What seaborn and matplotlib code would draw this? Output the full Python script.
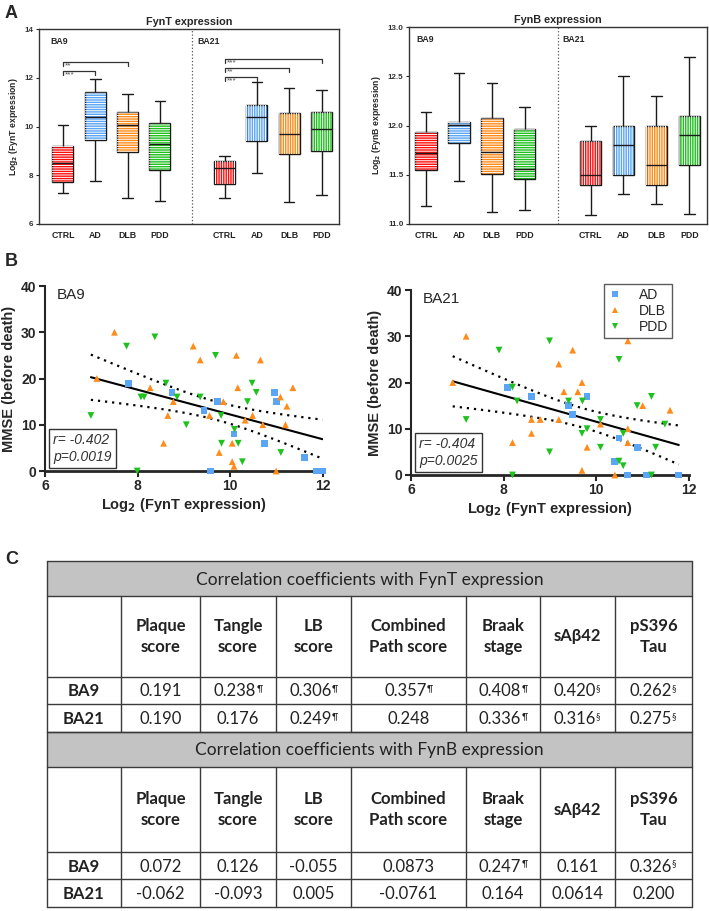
import numpy as np
import pandas as pd
import matplotlib
matplotlib.use('Agg')
import matplotlib.pyplot as plt
from matplotlib.patches import PathPatch, Rectangle
from matplotlib.lines import Line2D
import seaborn as sns

sns.set_style('white')
plt.rcParams['font.family'] = ['Liberation Sans', 'DejaVu Sans']
plt.rcParams['hatch.linewidth'] = 0.7

groups = ['CTRL', 'AD', 'DLB', 'PDD']
box_colors = ['#ff0d0d', '#5aa5f5', '#ff8c1a', '#1ec11e']

# five-number summaries (min, Q1, median, Q3, max)
fynt_ba9 = [[7.26, 7.74, 8.51, 9.22, 10.08], [7.78, 9.44, 10.38, 11.40, 11.96],
            [7.08, 8.95, 10.05, 10.58, 11.32], [6.96, 8.23, 9.30, 10.16, 11.05]]
fynt_ba21 = [[7.08, 7.63, 8.29, 8.59, 8.79], [8.08, 9.40, 10.38, 10.89, 11.81],
             [6.89, 8.88, 9.68, 10.55, 11.59], [7.18, 8.99, 9.89, 10.58, 11.49]]
fynb_ba9 = [[11.18, 11.55, 11.72, 11.93, 12.14], [11.44, 11.82, 12.01, 12.035, 12.53],
            [11.12, 11.51, 11.73, 12.08, 12.43], [11.14, 11.46, 11.56, 11.96, 12.19]]
fynb_ba21 = [[11.09, 11.40, 11.50, 11.84, 12.00], [11.30, 11.50, 11.80, 12.00, 12.50],
             [11.20, 11.40, 11.60, 12.00, 12.30], [11.10, 11.60, 11.90, 12.10, 12.70]]

# significance brackets vs CTRL: (region, group, label, height)
fynt_sig = [('BA9', 'DLB', '**', 12.64), ('BA9', 'AD', '***', 12.27),
            ('BA21', 'PDD', '***', 12.77), ('BA21', 'DLB', '**', 12.41),
            ('BA21', 'AD', '***', 12.03)]

# MMSE vs FynT scatter, BA9
ba9_ad_x = [7.81, 8.74, 9.73, 9.43, 10.08, 10.73, 10.96, 10.99, 11.60, 9.58, 11.86, 11.99]
ba9_ad_y = [19, 17, 15, 13, 8, 6, 17, 15, 3, 0, 0, 0]
ba9_dlb_x = [7.50, 7.12, 8.27, 8.77, 8.65, 8.56, 9.20, 9.35, 9.55, 9.85, 9.76, 10.04, 10.04,
             10.08, 10.13, 10.16, 10.32, 10.48, 10.65, 10.70, 10.99, 11.08, 11.19, 11.22, 11.35]
ba9_dlb_y = [30, 20, 18, 15, 12, 6, 27, 24, 12, 15, 4, 6, 2, 1, 25, 18, 11, 12, 24, 10, 0, 16, 10, 14, 18]
ba9_pdd_x = [6.99, 7.76, 8.37, 7.99, 8.61, 8.07, 8.14, 8.85, 9.05, 9.35, 9.68, 9.80, 9.81,
             10.09, 10.17, 10.26, 10.37, 10.47, 10.56, 11.09]
ba9_pdd_y = [12, 27, 29, 0, 19, 16, 16, 16, 10, 16, 25, 12, 6, 9, 6, 2, 15, 19, 17, 4]

# MMSE vs FynT scatter, BA21
ba21_ad_x = [8.09, 8.60, 9.40, 9.49, 9.80, 10.40, 10.49, 10.68, 10.88, 11.09, 11.78]
ba21_ad_y = [19, 17, 15, 13, 17, 3, 8, 0, 6, 0, 0]
ba21_dlb_x = [6.90, 7.19, 8.19, 8.60, 8.60, 8.79, 9.19, 9.19, 9.30, 9.49, 9.60, 9.69, 9.69,
              9.80, 10.09, 10.40, 10.68, 10.68, 10.68, 11.00, 11.59]
ba21_dlb_y = [20, 30, 7, 9, 12, 12, 24, 12, 18, 27, 18, 20, 1, 6, 11, 0, 10, 7, 29, 15, 14]
ba21_pdd_x = [7.19, 7.90, 8.19, 8.29, 8.19, 8.99, 8.99, 9.40, 9.70, 9.69, 9.80, 10.09, 10.09,
              10.49, 10.49, 10.58, 10.58, 10.88, 11.19, 11.19, 11.28, 11.48]
ba21_pdd_y = [12, 27, 19, 16, 0, 29, 5, 16, 16, 9, 10, 12, 6, 25, 3, 2, 9, 15, 17, 0, 6, 11]

dot_colors = {'AD': '#5aa5f5', 'DLB': '#ff8c1a', 'PDD': '#1ec11e'}
dot_markers = {'AD': 's', 'DLB': '^', 'PDD': 'v'}

# correlation table
table_cols = ['Plaque\nscore', 'Tangle\nscore', 'LB\nscore', 'Combined\nPath score',
              'Braak\nstage', 'sAβ42', 'pS396\nTau']
fynt_ba9_r = ['0.191', '0.238', '0.306', '0.357', '0.408', '0.420', '0.262']
fynt_ba9_sup = ['', '¶', '¶', '¶', '¶', '§', '§']
fynt_ba21_r = ['0.190', '0.176', '0.249', '0.248', '0.336', '0.316', '0.275']
fynt_ba21_sup = ['', '', '¶', '', '¶', '§', '§']
fynb_ba9_r = ['0.072', '0.126', '-0.055', '0.0873', '0.247', '0.161', '0.326']
fynb_ba9_sup = ['', '', '', '', '¶', '', '§']
fynb_ba21_r = ['-0.062', '-0.093', '0.005', '-0.0761', '0.164', '0.0614', '0.200']
fynb_ba21_sup = ['', '', '', '', '', '', '']

fig = plt.figure(figsize=(7.09, 9.11), dpi=100)
W, H = 709, 911


def px_axes(left, top, right, bottom):
    return fig.add_axes([left / W, 1 - bottom / H, (right - left) / W, (bottom - top) / H])


def box_panel(ax, ba9, ba21, title, ylim, yticks, yfmt, sig=()):
    rows = []
    for i, g in enumerate(groups):
        for v in ba9[i]:
            rows.append((i, g, v))
        for v in ba21[i]:
            rows.append((i + 5, g, v))
    df = pd.DataFrame(rows, columns=['pos', 'group', 'value'])
    sns.boxplot(data=df, x='pos', y='value', hue='group', hue_order=groups,
                palette=box_colors, native_scale=True, dodge=False, width=0.65,
                whis=(0, 100), linecolor='#1a1a1a', linewidth=1.0, saturation=1,
                legend=False, ax=ax)
    # white stripes inside the boxes
    for p in list(ax.patches):
        ext = p.get_path().get_extents()
        hatch = '-------' if ext.x0 < 4 else '|||||||'
        ax.add_patch(PathPatch(p.get_path(), transform=p.get_transform(), fc='none',
                               ec='white', lw=0, hatch=hatch, zorder=2.05))
    for ln in ax.lines:
        ln.set_zorder(3)
    ax.axvline(4, color='#555555', lw=0.9, ls=':', zorder=1)
    ax.set_ylim(*ylim)
    ax.set_yticks(yticks)
    ax.set_yticklabels([yfmt % t for t in yticks])
    ax.set_xlim(-0.74 if sig else -0.52, 8.54)
    ax.set_xticks([0, 1, 2, 3, 5, 6, 7, 8])
    ax.set_xticklabels(groups + groups, fontsize=6.3, fontweight='bold', color='#222222')
    ax.tick_params(axis='x', length=0, pad=5)
    ax.tick_params(axis='y', length=2.5, width=0.8, labelsize=5.8, pad=1.5, left=True,
                   labelcolor='#333333')
    for t in ax.get_yticklabels():
        t.set_fontweight('bold')
    ax.set_xlabel('')
    ax.set_ylabel(r'Log$_\mathbf{2}$ (%s expression)' % title.split()[0],
                  fontsize=6.2, fontweight='bold', labelpad=3)
    ax.set_title(title, fontsize=7.8, fontweight='bold', pad=3)
    for s in ax.spines.values():
        s.set_color('#333333')
        s.set_linewidth(1.0)
    ytop = ylim[1] - 0.04 * (ylim[1] - ylim[0])
    ax.text(-0.4 if sig else -0.3, ytop, 'BA9', fontsize=6.3, fontweight='bold', va='top')
    ax.text(4.15, ytop, 'BA21', fontsize=6.3, fontweight='bold', va='top')
    tick = 0.022 * (ylim[1] - ylim[0])
    for region, g, lab, h in sig:
        off = 0 if region == 'BA9' else 5
        x0, x1 = off, off + groups.index(g)
        ax.plot([x0, x0, x1, x1], [h - tick, h, h, h - tick], color='#333333', lw=0.9)
        ax.text(x0 + 0.06, h - 0.02, lab, fontsize=6, color='#555555', va='top', ha='left')


ax1 = px_axes(39, 29, 339, 224)
box_panel(ax1, fynt_ba9, fynt_ba21, 'FynT expression', (6, 14), [6, 8, 10, 12, 14], '%d', fynt_sig)
ax2 = px_axes(409, 27, 707, 224)
box_panel(ax2, fynb_ba9, fynb_ba21, 'FynB expression', (11, 13), [11, 11.5, 12, 12.5, 13], '%.1f')


def fit_band(x, y):
    x = np.asarray(x, float)
    y = np.asarray(y, float)
    n = len(x)
    b, a = np.polyfit(x, y, 1)
    resid = y - (a + b * x)
    s = np.sqrt(np.sum(resid ** 2) / (n - 2))
    sxx = np.sum((x - x.mean()) ** 2)
    xs = np.linspace(x.min(), x.max(), 100)
    fit = a + b * xs
    half = 2.0 * s * np.sqrt(1 / n + (xs - x.mean()) ** 2 / sxx)
    return xs, fit, fit - half, fit + half


def scatter_panel(ax, ad, dlb, pdd, region, stats, legend=False):
    rows = []
    for name, (xs, ys) in zip(['AD', 'DLB', 'PDD'], [ad, dlb, pdd]):
        rows += [(xv, yv, name) for xv, yv in zip(xs, ys)]
    df = pd.DataFrame(rows, columns=['fynt', 'mmse', 'group'])
    sns.scatterplot(data=df, x='fynt', y='mmse', hue='group', style='group',
                    markers=dot_markers, palette=dot_colors, s=24, linewidth=0,
                    legend=False, clip_on=False, zorder=4, ax=ax)
    xs, fit, lo, hi = fit_band(df['fynt'], df['mmse'])
    ax.plot(xs, fit, color='black', lw=1.5, zorder=3)
    ax.plot(xs, lo, color='black', lw=1.6, ls=(0, (1, 2.2)), zorder=3)
    ax.plot(xs, hi, color='black', lw=1.6, ls=(0, (1, 2.2)), zorder=3)
    ax.set_xlim(6, 12)
    ax.set_ylim(0, 40)
    ax.set_xticks([6, 8, 10, 12])
    ax.set_yticks([0, 10, 20, 30, 40])
    sns.despine(ax=ax)
    ax.spines['left'].set_linewidth(1.5)
    ax.spines['bottom'].set_linewidth(2.0)
    ax.tick_params(length=4, width=1.5, labelsize=10, pad=2, left=True, bottom=True)
    for t in ax.get_xticklabels() + ax.get_yticklabels():
        t.set_fontweight('bold')
    ax.set_xlabel(r'Log$_\mathbf{2}$ (FynT expression)', fontsize=10.5, fontweight='bold', labelpad=2)
    ax.set_ylabel('MMSE (before death)', fontsize=10.5, fontweight='bold', labelpad=4)
    ax.text(0.043, 0.95, region, transform=ax.transAxes, fontsize=11, va='center')
    ax.text(0.03, 0.04, stats, transform=ax.transAxes, fontsize=10, style='italic',
            color='#333333', va='bottom', linespacing=1.2,
            bbox=dict(boxstyle='square,pad=0.3', fc='white', ec='#333333', lw=1))
    if legend:
        handles = [Line2D([], [], ls='', marker=dot_markers[k], color=dot_colors[k],
                          markersize=5, markeredgewidth=0) for k in dot_markers]
        leg = ax.legend(handles, list(dot_markers), loc='upper right',
                        bbox_to_anchor=(0.965, 1.07), fontsize=10, frameon=True,
                        fancybox=False, edgecolor='#333333', borderpad=0.3,
                        handletextpad=1.2, labelspacing=0.15, handlelength=1.0)
        leg.get_frame().set_linewidth(1.0)


ax3 = px_axes(45, 286, 323, 471)
scatter_panel(ax3, (ba9_ad_x, ba9_ad_y), (ba9_dlb_x, ba9_dlb_y), (ba9_pdd_x, ba9_pdd_y),
              'BA9', 'r= -0.402\np=0.0019')
ax4 = px_axes(411, 290, 689, 475)
scatter_panel(ax4, (ba21_ad_x, ba21_ad_y), (ba21_dlb_x, ba21_dlb_y), (ba21_pdd_x, ba21_pdd_y),
              'BA21', 'r= -0.404\np=0.0025', legend=True)

# panel C: table
tax = fig.add_axes([0, 0, 1, 1], zorder=-1)
tax.set_xlim(0, W)
tax.set_ylim(H, 0)
tax.axis('off')
col_edges = [47, 121, 200, 276, 351, 466, 540, 615, 692]
row_edges = [561, 596, 677, 704, 732, 767, 852, 879, 907]
tfont = ['Lato', 'DejaVu Sans']
line_kw = dict(color='#3a3a3a', lw=1.0)

blocks = [('Correlation coefficients with FynT expression',
           [('BA9', fynt_ba9_r, fynt_ba9_sup), ('BA21', fynt_ba21_r, fynt_ba21_sup)]),
          ('Correlation coefficients with FynB expression',
           [('BA9', fynb_ba9_r, fynb_ba9_sup), ('BA21', fynb_ba21_r, fynb_ba21_sup)])]
for bi, (head, rows) in enumerate(blocks):
    r0 = bi * 4
    gtop, gbot = row_edges[r0], row_edges[r0 + 1]
    tax.add_patch(Rectangle((col_edges[0], gtop), col_edges[-1] - col_edges[0], gbot - gtop,
                            fc='#c3c3c3', ec='none'))
    tax.text((col_edges[0] + col_edges[-1]) / 2, (gtop + gbot) / 2 + 1, head,
             family=tfont, fontsize=12.5, ha='center', va='center', color='#222222')
    hy0, hy1 = row_edges[r0 + 1], row_edges[r0 + 2]
    for ci, c in enumerate(table_cols):
        cx = (col_edges[ci + 1] + col_edges[ci + 2]) / 2
        tax.text(cx, (hy0 + hy1) / 2, c, family=tfont, fontsize=12, fontweight='bold',
                 ha='center', va='center', linespacing=1.35, color='#222222')
    for ri, (lab, vals, sups) in enumerate(rows):
        y0, y1 = row_edges[r0 + 2 + ri], row_edges[r0 + 3 + ri]
        yc = (y0 + y1) / 2 + 1
        tax.text((col_edges[0] + col_edges[1]) / 2, yc, lab, family=tfont, fontsize=12,
                 fontweight='bold', ha='center', va='center', color='#222222')
        for ci, (v, sp) in enumerate(zip(vals, sups)):
            cx = (col_edges[ci + 1] + col_edges[ci + 2]) / 2
            t = tax.text(cx - (3 if sp else 0), yc, v, family=tfont, fontsize=12,
                         ha='center', va='center', color='#222222')
            if sp:
                tax.annotate(sp, xy=(1.0, 0.95), xycoords=t, family=tfont, fontsize=6.5,
                             ha='left', va='top', color='#222222')
    # grid lines of the block
    for y in row_edges[r0:r0 + 5]:
        tax.plot([col_edges[0], col_edges[-1]], [y, y], **line_kw)
    for x in col_edges[1:-1]:
        tax.plot([x, x], [row_edges[r0 + 1], row_edges[r0 + 4]], **line_kw)
tax.plot([col_edges[0], col_edges[0]], [row_edges[0], row_edges[-1]], **line_kw)
tax.plot([col_edges[-1], col_edges[-1]], [row_edges[0], row_edges[-1]], **line_kw)

for lab, y in [('A', 14), ('B', 262), ('C', 560)]:
    fig.text(5 / W, 1 - y / H, lab, fontsize=13, fontweight='bold', va='center', ha='left')

fig.savefig('out.png', dpi=100)
